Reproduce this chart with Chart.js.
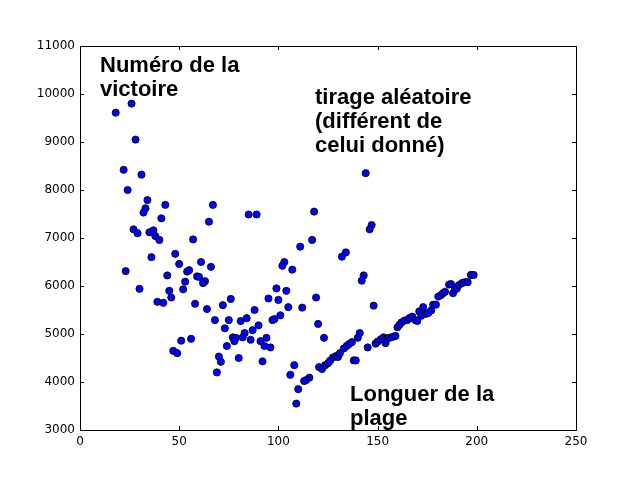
<!DOCTYPE html>
<html>
<head>
<meta charset="utf-8">
<script src="https://cdn.jsdelivr.net/npm/chart.js@4/dist/chart.umd.min.js"></script>
<style>
  html, body { margin: 0; padding: 0; background: #fff; }
  #wrap { width: 640px; height: 478px; }
</style>
</head>
<body>
<div id="wrap"><canvas id="scatterGraph"></canvas></div>
<script>
// Range length (x) and victory number (y)
const lengths = [
    18, 26, 28, 22, 31, 24, 34, 43, 33, 32, 41, 27, 29, 35, 37, 38, 40, 57, 48, 36,
    50, 23, 44, 54, 55, 53, 59, 60, 30, 45, 52, 46, 39, 42, 58, 56, 51, 47, 49, 67,
    65, 85, 89, 118, 117, 111, 61, 66, 103, 102, 107, 63, 62, 99, 104, 76, 95, 100, 119, 72,
    64, 105, 112, 88, 68, 75, 81, 84, 97, 98, 101, 120, 73, 90, 87, 83, 77, 78.6, 77.8, 82,
    86, 94, 91, 93, 96, 74, 70, 71, 80, 92, 69, 120.5, 108, 106, 115.6, 114, 113, 110, 109, 144,
    147, 146, 134, 132, 143, 142, 148, 123, 122, 123.6, 125, 126, 127.5, 129, 130, 131, 133, 134.4,
    135.6, 137, 140, 141, 138, 139, 145, 149, 150, 151.6, 153, 154, 155, 156, 157.6, 159,
    160, 161, 162, 163.5, 165, 166, 167.5, 169, 170, 171, 172, 173, 174.4, 175.6, 177, 178,
    179.4, 180.6, 182, 183, 184, 186, 187, 188, 189, 190, 191, 192.5, 194, 195.4, 197, 198.4
];
const victoryNumbers = [
    9610, 9800, 9050, 8420, 8320, 8000, 7790, 7690, 7620, 7530, 7410, 7180, 7100, 7120, 7160, 7040, 6960, 6970, 6670, 6600,
    6460, 6310, 6220, 6300, 6330, 6090, 6200, 6190, 5940, 5900, 5930, 5760, 5670, 5650, 5630, 4900, 4860, 4650, 4600, 7690,
    7340, 7490, 7490, 7550, 6960, 6820, 6500, 6400, 6500, 6420, 6340, 6100, 6060, 5950, 5900, 5730, 5740, 5710, 5760, 5600,
    5520, 5560, 5550, 5500, 5290, 5290, 5270, 5330, 5290, 5310, 5390, 5210, 5120, 5180, 5080, 5020, 4930, 4920, 4850, 4930,
    4880, 4920, 4850, 4750, 4720, 4750, 4530, 4420, 4500, 4430, 4200, 4310, 4350, 4150, 4090, 4040, 4020, 3850, 3550, 8350,
    7270, 7180, 6700, 6610, 6220, 6110, 5590, 4920, 4270, 4350, 4390, 4440, 4510, 4540, 4520, 4600, 4700, 4750,
    4790, 4830, 4920, 5020, 4450, 4450, 4720, 4800, 4840, 4890, 4930, 4810, 4910, 4920, 4940, 4960,
    5140, 5190, 5240, 5280, 5290, 5330, 5360, 5290, 5270, 5470, 5380, 5560, 5420, 5440, 5490, 5610,
    5610, 5780, 5810, 5850, 5880, 6030, 6040, 5850, 5920, 5950, 6020, 6060, 6080, 6080, 6230, 6230
];

const xTicks = [0, 50, 100, 150, 200, 250];
const yTicks = [3000, 4000, 5000, 6000, 7000, 8000, 9000, 10000, 11000];

// text notes drawn on the plot (text, left px, baseline px)
const notes = [
    ['Numéro de la', 100, 72], ['victoire', 100, 96],
    ['tirage aléatoire', 315, 104], ['(différent de', 315, 128], ['celui donné)', 315, 152],
    ['Longuer de la', 350, 401], ['plage', 350, 425]
];

const points = lengths.map((x, i) => ({ x: x, y: victoryNumbers[i] }));

// frame with inward ticks on all four sides, like matplotlib classic
const framePlugin = {
    id: 'frame',
    afterDraw(chart) {
        const ctx = chart.ctx;
        const a = chart.chartArea;
        const xs = chart.scales.x, ys = chart.scales.y;
        ctx.save();
        ctx.strokeStyle = '#000';
        ctx.lineWidth = 1;
        ctx.strokeRect(Math.round(a.left) + 0.5, Math.round(a.top) + 0.5,
            Math.round(a.right - a.left), Math.round(a.bottom - a.top));
        ctx.beginPath();
        xTicks.forEach(v => {
            const px = Math.round(xs.getPixelForValue(v)) + 0.5;
            ctx.moveTo(px, a.bottom); ctx.lineTo(px, a.bottom - 4);
            ctx.moveTo(px, a.top); ctx.lineTo(px, a.top + 4);
        });
        yTicks.forEach(v => {
            const py = Math.round(ys.getPixelForValue(v)) + 0.5;
            ctx.moveTo(a.left, py); ctx.lineTo(a.left + 4, py);
            ctx.moveTo(a.right, py); ctx.lineTo(a.right - 4, py);
        });
        ctx.stroke();
        ctx.fillStyle = '#000';
        ctx.font = 'bold 22px "Liberation Sans", Arial, sans-serif';
        ctx.textBaseline = 'alphabetic';
        ctx.textAlign = 'left';
        notes.forEach(n => ctx.fillText(n[0], n[1], n[2]));
        ctx.restore();
    }
};

const ctxScatter = document.getElementById('scatterGraph').getContext('2d');
const scatterGraph = new Chart(ctxScatter, {
    type: 'scatter',
    data: {
        datasets: [{
            data: points,
            backgroundColor: '#0000ff',
            borderColor: '#000000',
            borderWidth: 0.8,
            pointRadius: 3.6,
            pointHoverRadius: 3.6
        }]
    },
    options: {
        responsive: true,
        maintainAspectRatio: false,
        animation: false,
        layout: { padding: { top: 46, right: 64, left: 0, bottom: 0 } },
        plugins: { legend: { display: false }, tooltip: { enabled: false } },
        scales: {
            x: {
                type: 'linear',
                min: 0, max: 250,
                grid: { display: false, drawTicks: false },
                border: { display: false },
                afterFit(s) { s.height = 48; },
                afterBuildTicks(s) { s.ticks = xTicks.map(v => ({ value: v })); },
                ticks: {
                    padding: 5,
                    color: '#000',
                    font: { family: '"DejaVu Sans", sans-serif', size: 12 },
                    maxRotation: 0
                }
            },
            y: {
                type: 'linear',
                min: 3000, max: 11000,
                grid: { display: false, drawTicks: false },
                border: { display: false },
                afterFit(s) { s.width = 80; },
                afterBuildTicks(s) { s.ticks = yTicks.map(v => ({ value: v })); },
                ticks: {
                    padding: 5,
                    color: '#000',
                    font: { family: '"DejaVu Sans", sans-serif', size: 12 },
                    callback: v => String(v)
                }
            }
        }
    },
    plugins: [framePlugin]
});
</script>
</body>
</html>
